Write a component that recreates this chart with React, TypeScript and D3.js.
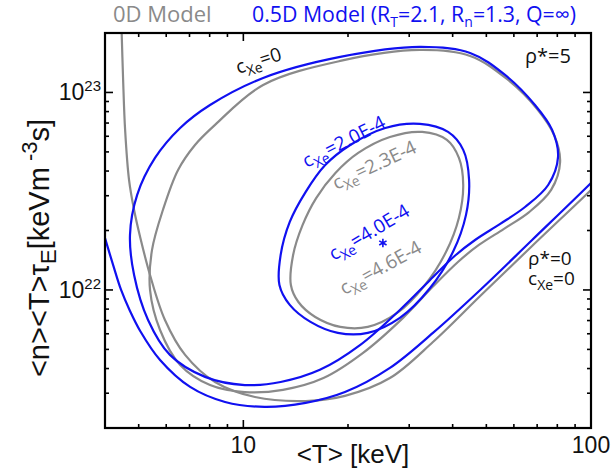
import * as d3 from "d3";

// <T> in keV, <n><T>tau_E in units of 1e21 keV m^-3 s
const UNIT_EXP = 21;

// rho*=0, cXe=0 (open curves)
const greyRho0 = [[4.46,220],[4.51,116],[4.57,64.6],[4.69,36.1],[4.85,25.4],[5.05,18.5],[5.39,11.9],[5.95,7.05],[6.8,4.69],[8.29,3.42],[10.8,2.87],[15.1,2.74],[19.6,2.91],[26.4,3.58],[35.1,5.45],[48.0,9.32],[67.7,16.7],[100,32.1],[106,35.6]];
const blueRho0 = [[4.0,18.3],[4.22,13.4],[4.45,10.0],[4.72,7.83],[5.05,6.2],[5.76,4.42],[7.03,3.23],[8.86,2.71],[11.5,2.56],[15.1,2.68],[19.6,3.04],[26.4,4.03],[35.1,6.06],[48.0,10.0],[67.7,17.9],[100,34.8],[106,38.7]];

// rho*=5, cXe=0 (closed)
const greyLoop = [[32.2,164.1],[44.9,153],[57.3,117],[70.0,82.5],[78.3,60.9],[81.5,44.5],[76.8,32.1],[66.4,24.8],[56.2,20.4],[47.6,16.9],[41.5,13.9],[35.1,10.4],[28.8,7.22],[22.1,4.8],[17.0,3.58],[13.0,3.12],[10.1,3.04],[8.02,3.3],[6.58,4.17],[5.76,6.27],[5.39,10.0],[5.46,15.9],[5.87,25.4],[6.49,40.5],[7.26,54.2],[8.29,68.5],[11.4,109.1],[19.0,144.4]];
const blueLoop = [[32.2,170],[44.9,158.5],[56.6,122.6],[69.0,86.4],[77.3,64.6],[80.4,47.2],[75.3,34.0],[64.6,26.3],[54.8,21.6],[46.4,17.9],[40.6,14.9],[34.4,11.2],[28.2,7.92],[21.7,5.27],[16.6,3.94],[12.8,3.42],[10.1,3.3],[7.76,3.63],[6.15,4.69],[5.32,7.05],[4.85,11.9],[4.72,19.0],[4.95,30.3],[5.57,46.6],[6.58,66.1],[8.02,86.4],[11.4,118.4],[19.0,151.3]];

// cXe = 2.3E-4 (0D) and 2.0E-4 (0.5D)
const greyInner = [[13.7,10.6],[13.9,15.0],[14.8,21.3],[16.2,29.2],[18.4,39.1],[21.4,49.4],[26.4,59.5],[32.7,63.1],[38.5,57.5],[41.7,46.6],[42.9,34.0],[41.7,23.2],[38.3,15.6],[33.3,10.6],[27.7,7.65],[22.8,6.5],[19.0,6.5],[16.1,7.3],[14.4,8.69]];
const blueInner = [[12.7,10.6],[12.8,15.0],[13.6,22.1],[15.1,31.3],[17.2,42.9],[20.3,54.2],[25.6,66.1],[32.2,69.3],[38.8,63.1],[42.9,51.2],[44.6,36.1],[43.7,24.0],[40.1,15.6],[34.4,10.2],[28.2,7.22],[22.8,6.06],[18.7,6.06],[15.6,6.89],[13.6,8.4]];

// cXe = 4.0E-4 / 4.6E-4 : loop shrinks to a point
const pointCrit = [25.2, 17.3];

const xMajor = [10, 100];
const xMinor = [5, 6, 7, 8, 9, 20, 30, 40, 50, 60, 70, 80, 90];
const yMajor = [10, 100];
const yMinor = [3, 4, 5, 6, 7, 8, 9, 20, 30, 40, 50, 60, 70, 80, 90];

const cLabels = [
  { val: "0", at: [9.67, 124], angle: -18, color: "#111" },
  { val: "2.0E-4", at: [15.2, 41.5], angle: -27, color: "#1010f0" },
  { val: "2.3E-4", at: [18.5, 32.1], angle: -25, color: "#8a8a8a" },
  { val: "4.0E-4", at: [18.2, 14.0], angle: -31, color: "#1010f0" },
  { val: "4.6E-4", at: [19.5, 9.4], angle: -29, color: "#8a8a8a" },
];

const BLUE = "#1010f0";
const GREY = "#8a8a8a";
const SANS = "'Open Sans', sans-serif";
const ARIAL = "'Liberation Sans', Arial, sans-serif";

const App = () => {
  const x = d3.scaleLog().domain([4, 100]).range([105, 591]);
  const y = d3.scaleLog().domain([2, 200]).range([428, 33]);
  const [x0, x1] = x.range();
  const [y0, y1] = y.range();

  const open = d3.line().x(d => x(d[0])).y(d => y(d[1])).curve(d3.curveCatmullRom.alpha(0.5));
  const closed = d3.line().x(d => x(d[0])).y(d => y(d[1])).curve(d3.curveCatmullRomClosed.alpha(0.5));

  const curves = [
    { d: closed(greyLoop), c: GREY },
    { d: closed(greyInner), c: GREY },
    { d: open(greyRho0), c: GREY },
    { d: closed(blueLoop), c: BLUE },
    { d: closed(blueInner), c: BLUE },
    { d: open(blueRho0), c: BLUE },
  ];

  const star = d3.symbol(d3.symbolAsterisk, 50)();

  const ticks = [];
  const addX = (v, len) => {
    ticks.push([x(v), y0, x(v), y0 - len]);
    ticks.push([x(v), y1, x(v), y1 + len]);
  };
  const addY = (v, len) => {
    ticks.push([x0, y(v), x0 + len, y(v)]);
    ticks.push([x1, y(v), x1 - len, y(v)]);
  };
  xMajor.forEach(v => addX(v, 8));
  xMinor.forEach(v => addX(v, 4));
  yMajor.forEach(v => addY(v, 8));
  yMinor.forEach(v => addY(v, 4));

  return (
    <svg width={614} height={470} style={{ position: "absolute", left: 0, top: 0, background: "#fff" }}>
      <defs>
        <clipPath id="plot">
          <rect x={x0} y={y1} width={x1 - x0} height={y0 - y1} />
        </clipPath>
      </defs>

      <text x={113} y={22} fontFamily={SANS} fontSize={22} fill={GREY}>0D Model</text>
      <text x={252} y={22} fontFamily={SANS} fontSize={21.3} fill={BLUE}>
        0.5D Model (R<tspan dy={5} fontSize={14}>T</tspan>
        <tspan dy={-5}>=2.1, R</tspan><tspan dy={5} fontSize={14}>n</tspan>
        <tspan dy={-5}>=1.3, Q=∞)</tspan>
      </text>

      <g clipPath="url(#plot)" fill="none" strokeWidth={2.2}>
        {curves.map((k, i) => <path key={i} d={k.d} stroke={k.c} />)}
      </g>
      <path d={star} transform={`translate(${x(pointCrit[0])},${y(pointCrit[1])})`} stroke={BLUE} strokeWidth={1.6} fill="none" />

      {cLabels.map((l, i) => (
        <text key={i} transform={`translate(${x(l.at[0])},${y(l.at[1])}) rotate(${l.angle})`}
          fontFamily={SANS} fontSize={19} fill={l.color}>
          c<tspan dy={5} fontSize={14}>Xe</tspan><tspan dy={-5}>={l.val}</tspan>
        </text>
      ))}

      <text x={x(64.6)} y={y(141)} fontFamily={SANS} fontSize={20} fill="#111">ρ*=5</text>
      <text x={x(65.9)} y={y(13.4)} fontFamily={SANS} fontSize={19} fill="#111">ρ*=0</text>
      <text x={x(65.9)} y={y(10.6)} fontFamily={SANS} fontSize={19} fill="#111">
        c<tspan dy={5} fontSize={14}>Xe</tspan><tspan dy={-5}>=0</tspan>
      </text>

      <g stroke="#000" strokeWidth={1.6}>
        {ticks.map((t, i) => <line key={i} x1={t[0]} y1={t[1]} x2={t[2]} y2={t[3]} />)}
      </g>
      <rect x={x0} y={y1} width={x1 - x0} height={y0 - y1} fill="none" stroke="#000" strokeWidth={2.2} />

      {xMajor.map(v => (
        <text key={v} x={x(v)} y={y0 + 25} textAnchor="middle" fontFamily={ARIAL} fontSize={23} fill="#111">{v}</text>
      ))}
      {yMajor.map(v => (
        <text key={v} x={x0 - 4} y={y(v) + 8} textAnchor="end" fontFamily={ARIAL} fontSize={23} fill="#111">
          10<tspan dy={-9} fontSize={15}>{Math.round(Math.log10(v)) + UNIT_EXP}</tspan>
        </text>
      ))}

      <text x={353} y={463} textAnchor="middle" fontFamily={ARIAL} fontSize={26} fill="#111">&lt;T&gt; [keV]</text>
      <text transform="translate(49,248) rotate(-90)" textAnchor="middle" fontFamily={ARIAL} fontSize={29} fill="#111">
        &lt;n&gt;&lt;T&gt;τ<tspan dy={7} fontSize={22}>E</tspan>
        <tspan dy={-7}>[keVm</tspan><tspan dy={-12} fontSize={22}> -3</tspan><tspan dy={12}>s]</tspan>
      </text>
    </svg>
  );
};

export default App;
